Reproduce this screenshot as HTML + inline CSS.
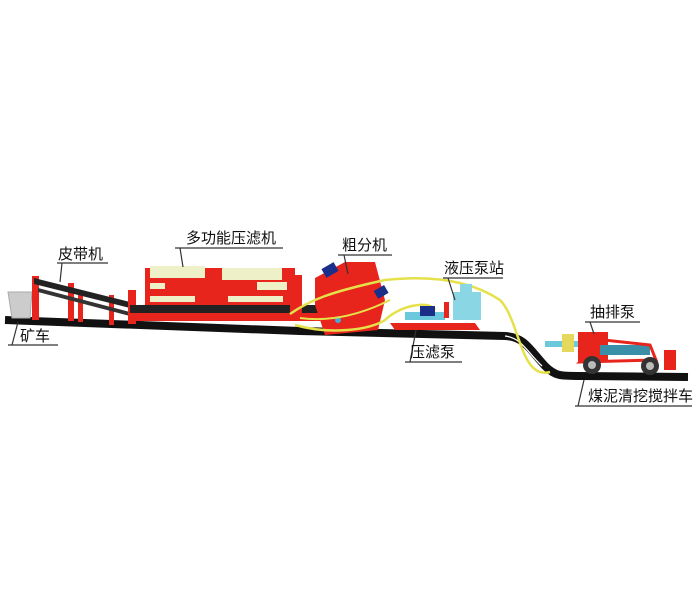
<!DOCTYPE html>
<html><head><meta charset="utf-8"><style>
html,body{margin:0;padding:0;background:#fff;}
svg{display:block;}
text{font-family:"Liberation Sans","Noto Sans CJK SC",sans-serif;font-size:15px;fill:#111;}
</style></head><body>
<svg width="700" height="600" viewBox="0 0 700 600" xmlns="http://www.w3.org/2000/svg">
<rect width="700" height="600" fill="#fff"/>
<!-- ground -->
<path d="M5,320 L300,331 L505,336 C525,337 530,350 545,366 C555,376 560,376 580,376 L688,377" fill="none" stroke="#111" stroke-width="8"/>
<path d="M505,336 C522,338 527,352 542,366" fill="none" stroke="#fff" stroke-width="1.2"/>
<!-- mine cart -->
<path d="M8,292 L32,292 L30,318 L12,318 Z" fill="#ccc" stroke="#aaa"/>
<!-- belt conveyor -->
<rect x="32" y="276" width="7" height="44" fill="#e8251c"/>
<rect x="68" y="283" width="6" height="38" fill="#e8251c"/>
<rect x="78" y="292" width="5" height="30" fill="#e8251c"/>
<rect x="109" y="295" width="5" height="30" fill="#e8251c"/>
<path d="M34,278 L130,302 L130,308 L34,284 Z" fill="#222"/>
<path d="M38,288 L130,312 L130,316 L38,292 Z" fill="#333"/>
<!-- filter press -->
<rect x="128" y="290" width="8" height="34" fill="#e8251c"/>
<rect x="145" y="268" width="150" height="40" fill="#e8251c"/>
<rect x="150" y="266" width="55" height="12" fill="#eef0c8"/>
<rect x="222" y="268" width="60" height="12" fill="#eef0c8"/>
<rect x="150" y="283" width="15" height="6" fill="#eef0c8"/>
<rect x="257" y="282" width="30" height="8" fill="#eef0c8"/>
<rect x="150" y="296" width="45" height="6" fill="#eef0c8"/>
<rect x="228" y="296" width="55" height="6" fill="#eef0c8"/>
<rect x="130" y="305" width="190" height="8" fill="#222"/>
<rect x="130" y="313" width="190" height="8" fill="#e8251c"/>
<rect x="290" y="275" width="12" height="40" fill="#e8251c"/>
<!-- coarse separator -->
<path d="M315,278 L345,262 L375,262 L385,300 L378,330 L325,335 L315,305 Z" fill="#e8251c"/>
<rect x="323" y="265" width="14" height="10" fill="#1a2f8a" transform="rotate(-30 330 270)"/>
<rect x="375" y="288" width="12" height="9" fill="#1a2f8a" transform="rotate(-30 380 292)"/>
<circle cx="338" cy="320" r="3" fill="#4ad"/>
<!-- hoses -->
<path d="M290,314 C310,300 330,292 385,280 C430,275 470,280 500,300 C520,320 520,380 550,372" fill="none" stroke="#e5e14a" stroke-width="2.5"/>
<path d="M295,325 C330,335 370,330 385,320 C400,305 430,300 435,310" fill="none" stroke="#e5e14a" stroke-width="2.5"/>
<path d="M300,318 C330,322 360,315 390,300" fill="none" stroke="#e5e14a" stroke-width="2"/>
<!-- hydraulic station + filter pump -->
<path d="M390,323 L475,323 L480,330 L395,330 Z" fill="#e8251c"/>
<rect x="405" y="312" width="40" height="8" fill="#6cc9dc"/>
<rect x="420" y="306" width="15" height="10" fill="#1a2f8a"/>
<rect x="453" y="292" width="28" height="28" fill="#8ad6e4"/>
<rect x="460" y="284" width="12" height="10" fill="#8ad6e4"/>
<rect x="444" y="302" width="5" height="16" fill="#e8251c"/>
<!-- pump truck -->
<rect x="545" y="341" width="35" height="6" fill="#6cc9dc"/>
<rect x="562" y="334" width="12" height="18" fill="#e6d85a"/>
<rect x="578" y="332" width="30" height="30" fill="#e8251c"/>
<rect x="600" y="345" width="50" height="10" fill="#3a8fa8"/>
<path d="M604,340 L650,345 L656,360 L580,362 Z" fill="none" stroke="#e8251c" stroke-width="3"/>
<circle cx="592" cy="365" r="9" fill="#333"/>
<circle cx="592" cy="365" r="4" fill="#bbb"/>
<circle cx="650" cy="366" r="9" fill="#333"/>
<circle cx="650" cy="366" r="4" fill="#bbb"/>
<rect x="664" y="350" width="12" height="20" fill="#e8251c"/>
<!-- labels -->
<g stroke="#333" stroke-width="1.2" fill="none">
<path d="M57,263 L108,263 M62,263 L60,282"/>
<path d="M175,248 L283,248 M180,248 L183,267"/>
<path d="M338,255 L392,255 M344,255 L348,274"/>
<path d="M443,278 L503,278 M448,278 L455,300"/>
<path d="M405,362 L462,362 M410,362 L416,330"/>
<path d="M585,322 L640,322 M590,322 L594,334"/>
<path d="M575,406 L692,406 M578,406 L584,380"/>
<path d="M8,345 L58,345 M12,345 L18,322"/>
</g>
<text x="58" y="259">皮带机</text>
<text x="186" y="243">多功能压滤机</text>
<text x="342" y="250">粗分机</text>
<text x="444" y="273">液压泵站</text>
<text x="410" y="357">压滤泵</text>
<text x="590" y="317">抽排泵</text>
<text x="588" y="401">煤泥清挖搅拌车</text>
<text x="20" y="341">矿车</text>
</svg>
</body></html>
